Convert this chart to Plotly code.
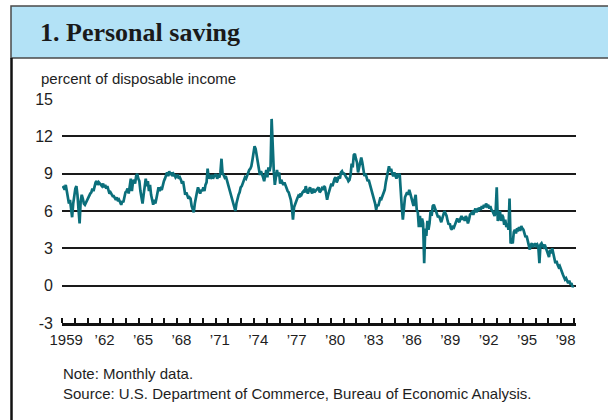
import plotly.graph_objects as go

# ---- data -------------------------------------------------------------
start_year = 1959
# Monthly personal saving rate, percent of disposable income (Jan 1959 - Dec 1998)
saving_rate = [
    8.0, 7.9, 7.7, 8.1, 7.6, 7.2, 6.6, 6.9, 5.9, 5.5, 6.6, 7.5,   # 1959
    7.8, 8.0, 7.3, 6.1, 5.0, 6.8, 7.3, 7.0, 6.6, 6.5, 6.7, 6.9,   # 1960
    7.0, 7.2, 7.4, 7.5, 7.8, 7.6, 8.0, 8.3, 8.4, 8.1, 8.3, 8.2,   # 1961
    8.1, 8.0, 8.2, 7.9, 8.1, 7.8, 8.0, 7.7, 7.4, 7.5, 7.3, 7.2,   # 1962
    7.2, 7.0, 6.9, 7.1, 6.8, 6.9, 6.6, 6.5, 6.8, 6.7, 7.1, 7.5,   # 1963
    7.6, 7.8, 7.4, 7.9, 8.6, 7.6, 8.3, 8.5, 8.2, 8.8, 9.0, 8.6,   # 1964
    8.4, 7.6, 7.0, 6.6, 7.3, 8.2, 8.6, 8.0, 8.4, 7.6, 8.1, 7.3,   # 1965
    6.8, 6.5, 6.9, 6.6, 7.0, 7.4, 7.9, 7.6, 7.8, 7.7, 8.1, 8.4,   # 1966
    8.6, 8.9, 9.1, 8.8, 9.2, 8.9, 9.1, 8.8, 9.0, 8.9, 8.7, 8.8,   # 1967
    8.9, 8.6, 8.7, 8.5, 8.2, 8.4, 7.8, 7.3, 7.5, 7.2, 7.0, 7.1,   # 1968
    7.0, 6.4, 6.2, 5.9, 6.6, 7.2, 7.5, 7.9, 7.6, 7.4, 7.7, 7.6,   # 1969
    7.9, 7.6, 8.1, 8.3, 9.4, 8.6, 8.8, 8.7, 8.9, 8.6, 8.8, 8.9,   # 1970
    8.9, 8.6, 8.8, 8.7, 9.1, 10.2, 9.0, 8.9, 8.7, 8.8, 8.5, 8.2,  # 1971
    7.8, 7.6, 7.1, 6.9, 6.5, 6.3, 6.0, 6.6, 7.0, 7.3, 7.5, 7.9,   # 1972
    8.0, 8.2, 8.4, 8.7, 8.6, 8.9, 9.1, 9.3, 9.4, 9.6, 10.1, 10.6, # 1973
    11.2, 11.0, 10.5, 9.8, 9.4, 8.9, 9.2, 9.0, 8.7, 8.4, 9.0, 9.3, # 1974
    8.7, 9.5, 9.2, 9.6, 13.4, 10.2, 9.2, 8.1, 9.0, 9.3, 8.8, 9.1, # 1975
    8.2, 8.5, 8.3, 8.1, 8.3, 8.0, 7.9, 7.6, 7.5, 7.2, 6.9, 6.3,   # 1976
    5.3, 6.3, 6.6, 6.9, 7.0, 7.2, 7.1, 7.4, 7.3, 7.5, 7.6, 7.5,   # 1977
    8.0, 7.6, 7.4, 7.7, 7.9, 7.6, 7.4, 7.8, 7.5, 7.6, 7.7, 7.8,   # 1978
    7.9, 7.5, 7.6, 7.8, 7.7, 8.0, 7.9, 7.4, 6.9, 7.3, 7.6, 7.9,   # 1979
    8.2, 8.0, 8.4, 8.6, 8.7, 8.3, 8.5, 8.8, 8.6, 9.1, 9.2, 9.0,   # 1980
    9.0, 8.8, 8.7, 8.6, 8.4, 8.5, 8.9, 9.8, 9.5, 10.5, 10.6, 10.2, # 1981
    9.9, 9.1, 9.6, 10.1, 10.3, 9.9, 9.3, 8.8, 9.0, 8.7, 8.4, 8.5, # 1982
    8.2, 7.9, 7.6, 7.3, 7.0, 6.6, 6.1, 6.5, 6.4, 6.9, 7.1, 7.0,   # 1983
    7.2, 7.4, 7.7, 8.3, 8.7, 9.3, 9.6, 9.2, 9.4, 9.0, 8.8, 9.1,   # 1984
    8.8, 8.6, 9.0, 8.7, 9.0, 7.0, 6.3, 5.3, 6.4, 7.1, 7.3, 7.5,   # 1985
    7.3, 7.7, 7.4, 7.0, 6.6, 6.4, 6.9, 7.3, 6.1, 5.9, 4.7, 5.6,   # 1986
    4.7, 5.4, 5.0, 1.8, 4.6, 4.0, 5.2, 4.5, 5.0, 6.0, 5.6, 6.4,   # 1987
    6.5, 6.2, 6.0, 5.8, 5.5, 5.6, 5.3, 5.1, 5.4, 5.7, 6.0, 5.8,   # 1988
    5.6, 5.2, 4.9, 5.0, 4.6, 4.5, 4.8, 4.7, 5.0, 5.3, 5.4, 5.2,   # 1989
    5.1, 5.4, 5.6, 5.3, 5.5, 5.2, 5.6, 5.4, 5.0, 5.3, 5.7, 5.8,   # 1990
    5.9, 5.7, 6.0, 6.2, 5.9, 6.1, 6.0, 6.3, 6.1, 6.4, 6.2, 6.5,   # 1991
    6.3, 6.6, 6.4, 6.5, 6.2, 6.4, 6.1, 6.0, 5.8, 5.6, 6.0, 7.9,   # 1992
    5.2, 5.6, 6.0, 5.2, 5.7, 5.5, 4.9, 5.3, 4.7, 5.0, 4.5, 7.0,   # 1993
    3.4, 3.6, 3.4, 4.3, 4.5, 4.2, 4.6, 4.5, 4.7, 4.4, 4.8, 4.6,   # 1994
    4.5, 4.2, 3.9, 4.0, 3.6, 3.2, 2.9, 3.3, 3.4, 3.1, 3.3, 3.4,   # 1995
    3.2, 3.3, 3.1, 1.8, 3.3, 3.4, 3.2, 3.1, 3.3, 3.0, 2.8, 2.6,   # 1996
    2.3, 2.9, 2.6, 3.0, 2.7, 2.2, 1.8, 2.0, 1.7, 1.5, 1.6, 1.3,   # 1997
    1.1, 0.9, 0.7, 0.5, 0.6, 0.3, 0.2, 0.4, 0.1, 0.2, -0.1, 0.0,  # 1998
]
label_years = [1959, 1962, 1965, 1968, 1971, 1974, 1977, 1980, 1983, 1986,
               1989, 1992, 1995, 1998]
label_text = ["1959", "\u201962", "\u201965", "\u201968", "\u201971", "\u201974",
              "\u201977", "\u201980", "\u201983", "\u201986", "\u201989", "\u201992",
              "\u201995", "\u201998"]
y_ticks = [-3, 0, 3, 6, 9, 12, 15]
y_tick_text = ["-3", "0", "3", "6", "9", "12", "15"]

title_text = "1. Personal saving"
unit_text = "percent of disposable income"
note_text = "Note: Monthly data."
source_text = "Source: U.S. Department of Commerce, Bureau of Economic Analysis."

# ---- geometry helpers ---------------------------------------------------
W, H = 608, 420
L, R, T, B = 62, 576, 99, 323


def px_x(px):
    return (px - L) / (R - L)


def px_y(py):
    return (B - py) / (B - T)


months = [start_year + i / 12 + 1 / 24 for i in range(len(saving_rate))]

fig = go.Figure()
fig.add_trace(go.Scatter(
    x=months, y=saving_rate, mode="lines",
    line=dict(color="#0b6f7b", width=2.7),
    hoverinfo="skip", showlegend=False,
))

sans = "Liberation Sans, Arial, Helvetica, sans-serif"

fig.update_layout(
    width=W, height=H,
    margin=dict(l=L, r=W - R, t=T, b=H - B, pad=0),
    paper_bgcolor="white", plot_bgcolor="white",
    font=dict(family=sans, size=14, color="#1e1e1e"),
    xaxis=dict(
        range=[1959, 1999.15],
        tickmode="array",
        tickvals=[y + 0.33 for y in label_years],
        ticktext=label_text,
        ticks="",
        showgrid=False, zeroline=False,
        showline=True, linecolor="#111", linewidth=3,
        tickfont=dict(family=sans, size=15, color="#1e1e1e"),
        ticklabelstandoff=1,
        minor=dict(
            tickmode="array",
            tickvals=list(range(1959, 2000)),
            ticks="inside", ticklen=5, tickwidth=2, tickcolor="#111",
            showgrid=False,
        ),
        fixedrange=True,
    ),
    yaxis=dict(
        range=[-3, 15],
        tickmode="array", tickvals=y_ticks, ticktext=y_tick_text,
        ticks="", showgrid=True, gridcolor="#1a1a1a", gridwidth=2,
        zeroline=False, showline=False,
        tickfont=dict(family=sans, size=16, color="#1e1e1e"),
        ticklabelstandoff=8,
        fixedrange=True,
    ),
)

shapes = [
    # title band
    dict(type="rect", xref="paper", yref="paper",
         x0=px_x(11), x1=px_x(612), y0=px_y(58), y1=px_y(6),
         fillcolor="#b3e2f6", line=dict(color="#4a4a4a", width=1.5), layer="below"),
    # left frame border
    dict(type="line", xref="paper", yref="paper",
         x0=px_x(11.5), x1=px_x(11.5), y0=px_y(58), y1=px_y(422),
         line=dict(color="#111", width=2.5)),
]

annotations = [
    dict(text="<b>" + title_text + "</b>", xref="paper", yref="paper",
         x=px_x(38), y=px_y(33), xanchor="left", yanchor="middle", showarrow=False,
         font=dict(family="Liberation Serif, Times New Roman, serif", size=26, color="#1a1a1a")),
    dict(text=unit_text, xref="paper", yref="paper",
         x=px_x(39), y=px_y(78), xanchor="left", yanchor="middle", showarrow=False,
         font=dict(family=sans, size=15, color="#1e1e1e")),
    dict(text=note_text, xref="paper", yref="paper",
         x=px_x(61), y=px_y(373), xanchor="left", yanchor="middle", showarrow=False,
         font=dict(family=sans, size=15, color="#1e1e1e")),
    dict(text=source_text, xref="paper", yref="paper",
         x=px_x(61), y=px_y(393), xanchor="left", yanchor="middle", showarrow=False,
         font=dict(family=sans, size=15, color="#1e1e1e")),
]

fig.update_layout(shapes=shapes, annotations=annotations)

fig.write_html(
    "out.html",
    config={"displayModeBar": False},
    post_script="document.body.style.margin='0';document.body.style.padding='0';",
)
